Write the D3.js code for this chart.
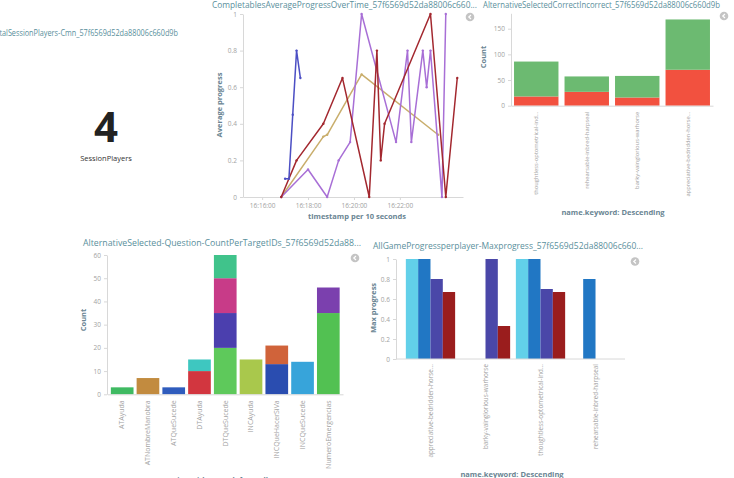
<!DOCTYPE html>
<html>
<head>
<meta charset="utf-8">
<script src="https://cdn.jsdelivr.net/npm/d3@7"></script>
<style>
  body { margin: 0; background: #fff; }
  svg text { font-family: "Open Sans", sans-serif; }
</style>
</head>
<body>
<svg id="dash" width="734" height="478"></svg>
<script>
// ---- metric panel
const metricTitle = "TotalSessionPlayers-Cmn_57f6569d52da88006c660d9b";
const metricValue = 4;
const metricLabel = "SessionPlayers";

// ---- average progress over time (10 second buckets)
const lineTitle = "CompletablesAverageProgressOverTime_57f6569d52da88006c660...";
const lineKeys = ["tan", "purple", "red", "blue"];
const lineTimes = [
  ["16:16:50", "16:18:40", "16:18:50", "16:20:20", "16:23:40"],
  ["16:16:50", "16:18:00", "16:18:50", "16:19:20", "16:19:50", "16:20:20", "16:21:50", "16:22:20",
   "16:22:30", "16:23:00", "16:23:10", "16:23:20", "16:23:50", "16:24:00"],
  ["16:16:50", "16:17:30", "16:18:40", "16:19:30", "16:20:40", "16:21:00", "16:21:10", "16:21:20",
   "16:23:20", "16:24:00", "16:24:30"],
  ["16:17:00", "16:17:10", "16:17:20", "16:17:30", "16:17:40"]
];
const lineValues = [
  [0, 0.33, 0.34, 0.67, 0.34],
  [0, 0.15, 0, 0.2, 0.3, 1, 0.3, 0.8, 0.3, 0.8, 0.6, 0.8, 0, 1],
  [0, 0.2, 0.4, 0.65, 0, 0.8, 0.2, 0.4, 1, 0, 0.65],
  [0.1, 0.1, 0.45, 0.8, 0.65]
];
const timeTicks = ["16:16:00", "16:18:00", "16:20:00", "16:22:00"];

// ---- correct / incorrect per player
const correctTitle = "AlternativeSelectedCorrectIncorrect_57f6569d52da88006c660d9b";
const playerNames = ["thoughtless-optometrical-ind...", "rehearsable-inbred-harpseal",
                     "barky-vainglorious-warhorse", "appreciative-bedridden-horse..."];
const incorrectCounts = [18, 27, 16, 70];
const correctCounts = [68, 30, 42, 98];

// ---- question count per target id (stacked segments)
const targetTitle = "AlternativeSelected-Question-CountPerTargetIDs_57f6569d52da88...";
const targetIds = ["ATAyuda", "ATNombreManobra", "ATQueSucede", "DTAyuda", "DTQueSucede",
                   "INCAyuda", "INCQueHacerSiVa", "INCQueSucede", "NumeroEmergencias"];
const segTarget = ["ATAyuda", "ATNombreManobra", "ATQueSucede", "DTAyuda", "DTAyuda",
                   "DTQueSucede", "DTQueSucede", "DTQueSucede", "DTQueSucede", "INCAyuda",
                   "INCQueHacerSiVa", "INCQueHacerSiVa", "INCQueSucede",
                   "NumeroEmergencias", "NumeroEmergencias"];
const segCount = [3, 7, 3, 10, 5, 20, 15, 15, 10, 15, 13, 8, 14, 35, 11];

// ---- max progress per player
const maxTitle = "AllGameProgressperplayer-Maxprogress_57f6569d52da88006c660...";
const maxPlayers = ["appreciative-bedridden-horse...", "barky-vainglorious-warhorse",
                    "thoughtless-optometrical-ind...", "rehearsable-inbred-harpseal"];
const maxSeries = ["s1", "s2", "s3", "s4"];
const maxValues = [
  [1, 1, 0.8, 0.67],
  [null, null, 1, 0.33],
  [1, 1, 0.7, 0.67],
  [null, 0.8, null, null]
];

// colours (kept apart from the data)
const lineColors = { tan: "#c9ae6c", purple: "#a86fd6", red: "#a3282f", blue: "#4c4fc4" };
const segColors = ["#3fba62", "#c28b3f", "#2f5cbd", "#d2363f", "#3ec7c0", "#5ec95b", "#4b3fae",
                   "#c83b88", "#40c38b", "#a9c84c", "#2a4db0", "#d0633a", "#37a4da", "#52c152", "#7b40ae"];
const maxColors = ["#62d0e9", "#2177c4", "#4a47a8", "#9a1d1d"];
const titleColor = "#5a8f9c";
const axisTitleColor = "#6a8593";
const tickColor = "#a2a2a2";
const lineStroke = "#d8d8d8";

const svg = d3.select('#dash');

function styleAxis(g, size) {
  g.select('.domain').attr('stroke', lineStroke);
  g.selectAll('.tick line').attr('stroke', lineStroke);
  g.selectAll('text').attr('fill', tickColor).style('font-size', size + 'px');
}

function panelTitle(x, y, text, width) {
  svg.append('text')
    .attr('x', x).attr('y', y)
    .attr('textLength', width).attr('lengthAdjust', 'spacingAndGlyphs')
    .style('font-size', '8.5px')
    .style('fill', titleColor)
    .text(text);
}

function axisTitle(x, y, text, rotate) {
  svg.append('text')
    .attr('transform', `translate(${x},${y})` + (rotate ? ' rotate(-90)' : ''))
    .attr('text-anchor', 'middle')
    .style('font-size', '7.5px')
    .style('font-weight', '700')
    .style('fill', axisTitleColor)
    .text(text);
}

function legendIcon(x, y) {
  svg.append('circle').attr('cx', x).attr('cy', y).attr('r', 4.3).attr('fill', '#c4c4c4');
  svg.append('path')
    .attr('d', `M${x + 1},${y - 2} L${x - 1.2},${y} L${x + 1},${y + 2}`)
    .attr('fill', 'none').attr('stroke', '#fff').attr('stroke-width', 1.2);
}

function rotateLabels(g, offset, size) {
  g.selectAll('text')
    .attr('transform', 'rotate(-90)')
    .attr('x', -offset).attr('y', 0).attr('dy', '0.32em')
    .attr('text-anchor', 'end')
    .style('font-size', size + 'px');
}

// ================= metric (title runs off the left edge, as in the dashboard)
panelTitle(-9, 36, metricTitle, 187);
svg.append('text')
  .attr('x', 106).attr('y', 142)
  .attr('text-anchor', 'middle')
  .style('font-size', '42px').style('font-weight', '700').style('fill', '#222')
  .text(metricValue);
svg.append('text')
  .attr('x', 106).attr('y', 161)
  .attr('text-anchor', 'middle')
  .style('font-size', '7.5px').style('fill', '#333')
  .text(metricLabel);

// ================= line chart
const parseT = d3.timeParse('%H:%M:%S');
const xT = d3.scaleTime()
  .domain([parseT('16:15:10'), parseT('16:24:45')])
  .range([243, 463]);
const yL = d3.scaleLinear().domain([0, 1]).range([197, 14]);

panelTitle(212, 7.5, lineTitle, 265);
legendIcon(470, 17);

svg.append('g')
  .attr('transform', 'translate(0,197)')
  .call(d3.axisBottom(xT).tickValues(timeTicks.map(parseT))
    .tickFormat(d3.timeFormat('%H:%M:%S')).tickSize(3).tickSizeOuter(0))
  .call(g => styleAxis(g, 6.5));
svg.append('g')
  .attr('transform', 'translate(243,0)')
  .call(d3.axisLeft(yL).ticks(5).tickFormat(d3.format('.1~f')).tickSize(3).tickSizeOuter(0))
  .call(g => styleAxis(g, 6.5));
axisTitle(222, 105, 'Average progress', true);
axisTitle(357, 219, 'timestamp per 10 seconds', false);

const lineGen = d3.line().x(d => xT(d.t)).y(d => yL(d.v));
lineKeys.forEach((k, i) => {
  const pts = lineTimes[i].map((t, j) => ({ t: parseT(t), v: lineValues[i][j] }));
  svg.append('path')
    .datum(pts)
    .attr('d', lineGen)
    .attr('fill', 'none')
    .attr('stroke', lineColors[k])
    .attr('stroke-width', 1.5)
    .attr('stroke-linejoin', 'round');
  svg.append('g').selectAll('circle')
    .data(pts).enter().append('circle')
    .attr('cx', d => xT(d.t)).attr('cy', d => yL(d.v))
    .attr('r', 1.2).attr('fill', lineColors[k]);
});

// ================= correct / incorrect
const xC = d3.scaleBand().domain(playerNames).range([511, 713]).paddingInner(0.12).paddingOuter(0.06);
const yC = d3.scaleLinear().domain([0, 180]).range([105.7, 13.3]);
const ciRows = playerNames.map((p, i) => ({ name: p, incorrect: incorrectCounts[i], correct: correctCounts[i] }));
const ciStack = d3.stack().keys(['incorrect', 'correct'])(ciRows);
const ciColor = { incorrect: '#f2513f', correct: '#6cba71' };

panelTitle(483, 7.5, correctTitle, 237);
legendIcon(724, 16);

svg.append('g')
  .attr('transform', 'translate(511,0)')
  .call(d3.axisLeft(yC).tickValues([0, 50, 100, 150]).tickSize(3).tickSizeOuter(0))
  .call(g => styleAxis(g, 6.5));
svg.append('g').selectAll('g')
  .data(ciStack).enter().append('g')
  .attr('fill', s => ciColor[s.key])
  .selectAll('rect').data(s => s).enter().append('rect')
  .attr('x', d => xC(d.data.name))
  .attr('width', xC.bandwidth())
  .attr('y', d => yC(d[1]))
  .attr('height', d => yC(d[0]) - yC(d[1]));
svg.append('g')
  .attr('transform', 'translate(0,105.7)')
  .call(d3.axisBottom(xC).tickSize(0).tickSizeOuter(0))
  .call(g => styleAxis(g, 5.8))
  .call(g => rotateLabels(g, 6, 5.8));
axisTitle(486, 57, 'Count', true);
axisTitle(613, 214.5, 'name.keyword: Descending', false);

// ================= question count per target
const xQ = d3.scaleBand().domain(targetIds).range([107.5, 343]).paddingInner(0.12).paddingOuter(0.13);
const yQ = d3.scaleLinear().domain([0, 60]).range([394.3, 255]);
const base = {};
const segs = segTarget.map((t, i) => {
  const y0 = base[t] || 0;
  base[t] = y0 + segCount[i];
  return { t, y0, y1: y0 + segCount[i], color: segColors[i] };
});

panelTitle(83, 246, targetTitle, 278);
legendIcon(355, 258);

svg.append('g')
  .attr('transform', 'translate(107,0)')
  .call(d3.axisLeft(yQ).ticks(6).tickSize(3).tickSizeOuter(0))
  .call(g => styleAxis(g, 6.5));
svg.append('g').selectAll('rect')
  .data(segs).enter().append('rect')
  .attr('x', d => xQ(d.t))
  .attr('width', xQ.bandwidth())
  .attr('y', d => yQ(d.y1))
  .attr('height', d => yQ(d.y0) - yQ(d.y1))
  .attr('fill', d => d.color);
svg.append('g')
  .attr('transform', 'translate(0,394.3)')
  .call(d3.axisBottom(xQ).tickSize(0).tickSizeOuter(0))
  .call(g => styleAxis(g, 7))
  .call(g => rotateLabels(g, 6, 7));
axisTitle(86, 320, 'Count', true);
axisTitle(227, 482, 'target.keyword: Ascending', false);

// ================= max progress per player
const xM = d3.scaleBand().domain(maxPlayers).range([401, 625]).paddingInner(0.104).paddingOuter(0.088);
const xMs = d3.scaleBand().domain(maxSeries).range([0, xM.bandwidth()]);
const yM = d3.scaleLinear().domain([0, 1]).range([359, 259]);

panelTitle(373, 249, maxTitle, 270);
legendIcon(635, 261.5);

svg.append('g')
  .attr('transform', 'translate(396,0)')
  .call(d3.axisLeft(yM).ticks(5).tickFormat(d3.format('.1~f')).tickSize(3).tickSizeOuter(0))
  .call(g => styleAxis(g, 6.5));
const maxCells = [];
maxPlayers.forEach((p, i) => maxSeries.forEach((s, j) => {
  if (maxValues[i][j] != null) maxCells.push({ p, s, v: maxValues[i][j], c: maxColors[j] });
}));
svg.append('g').selectAll('rect')
  .data(maxCells).enter().append('rect')
  .attr('x', d => xM(d.p) + xMs(d.s))
  .attr('width', xMs.bandwidth())
  .attr('y', d => yM(d.v))
  .attr('height', d => yM(0) - yM(d.v))
  .attr('fill', d => d.c);
svg.append('g')
  .attr('transform', 'translate(0,359)')
  .call(d3.axisBottom(xM).tickSize(0).tickSizeOuter(0))
  .call(g => g.select('.domain').attr('d', 'M396,0H625'))
  .call(g => styleAxis(g, 6.4))
  .call(g => rotateLabels(g, 5, 6.4));
axisTitle(376, 308, 'Max progress', true);
axisTitle(512, 477, 'name.keyword: Descending', false);
</script>
</body>
</html>
